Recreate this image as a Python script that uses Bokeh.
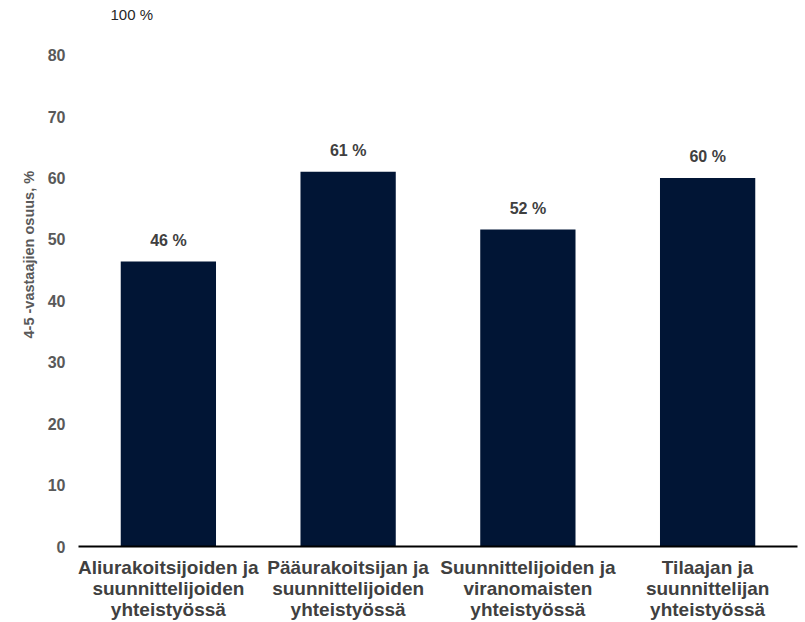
from bokeh.plotting import figure
from bokeh.models import Range1d, FixedTicker, Label, ColumnDataSource, Title
from bokeh.core.properties import value
from bokeh.embed import file_html
from bokeh.resources import INLINE

categories = [
    "Aliurakoitsijoiden ja\nsuunnittelijoiden\nyhteistyössä",
    "Pääurakoitsijan ja\nsuunnittelijoiden\nyhteistyössä",
    "Suunnittelijoiden ja\nviranomaisten\nyhteistyössä",
    "Tilaajan ja\nsuunnittelijan\nyhteistyössä",
]
values = [46.4, 61.0, 51.6, 60.0]
value_labels = ["46 %", "61 %", "52 %", "60 %"]
y_ticks = [0, 10, 20, 30, 40, 50, 60, 70, 80]
y_title = "4-5 -vastaajien osuus, %"
top_text = "100 %"

Y_END = 88.9
FONT = "Liberation Sans"

src = ColumnDataSource(dict(cat=categories, val=values, lab=value_labels))

p = figure(
    x_range=categories,
    y_range=Range1d(0, Y_END),
    width=805, height=622,
    output_backend="svg",
    toolbar_location=None,
    min_border_left=78, min_border_right=8,
    min_border_top=0, min_border_bottom=76,
)
p.outline_line_color = None
p.xgrid.grid_line_color = None
p.ygrid.grid_line_color = None

p.vbar(x="cat", top="val", width=0.53, source=src,
       fill_color="#011535", line_color=None)

p.text(x="cat", y="val", text="lab", source=src,
       text_align="center", text_baseline="alphabetic", y_offset=-21,
       text_font=value(FONT), text_font_size="16px", text_font_style="bold",
       text_color="#404040")

# x axis
xa = p.xaxis[0]
xa.axis_line_color = "black"
xa.axis_line_width = 2
xa.major_tick_line_color = None
xa.minor_tick_line_color = None
xa.major_tick_out = 0
xa.major_tick_in = 0
xa.major_label_standoff = 10
xa.major_label_text_font = FONT
xa.major_label_text_font_size = "19px"
xa.major_label_text_font_style = "bold"
xa.major_label_text_color = "#404040"
xa.major_label_text_line_height = 1.0

# y axis
ya = p.yaxis[0]
ya.ticker = FixedTicker(ticks=y_ticks)
ya.axis_line_color = None
ya.major_tick_line_color = None
ya.minor_tick_line_color = None
ya.major_tick_out = 0
ya.major_tick_in = 0
ya.major_label_standoff = 13
ya.major_label_text_font = FONT
ya.major_label_text_font_size = "16px"
ya.major_label_text_font_style = "bold"
ya.major_label_text_color = "#595959"

p.add_layout(Title(text=y_title, align="left", offset=208, standoff=15,
                   text_font=FONT, text_font_size="14.5px", text_font_style="bold",
                   text_color="#595959"), "left")

p.add_layout(Label(x=0, y=86.6, x_offset=32, text=top_text,
                   text_align="left", text_baseline="middle",
                   text_font=FONT, text_font_size="15px",
                   text_color="#262626"))

open("out.html", "w").write(file_html(p, INLINE))
